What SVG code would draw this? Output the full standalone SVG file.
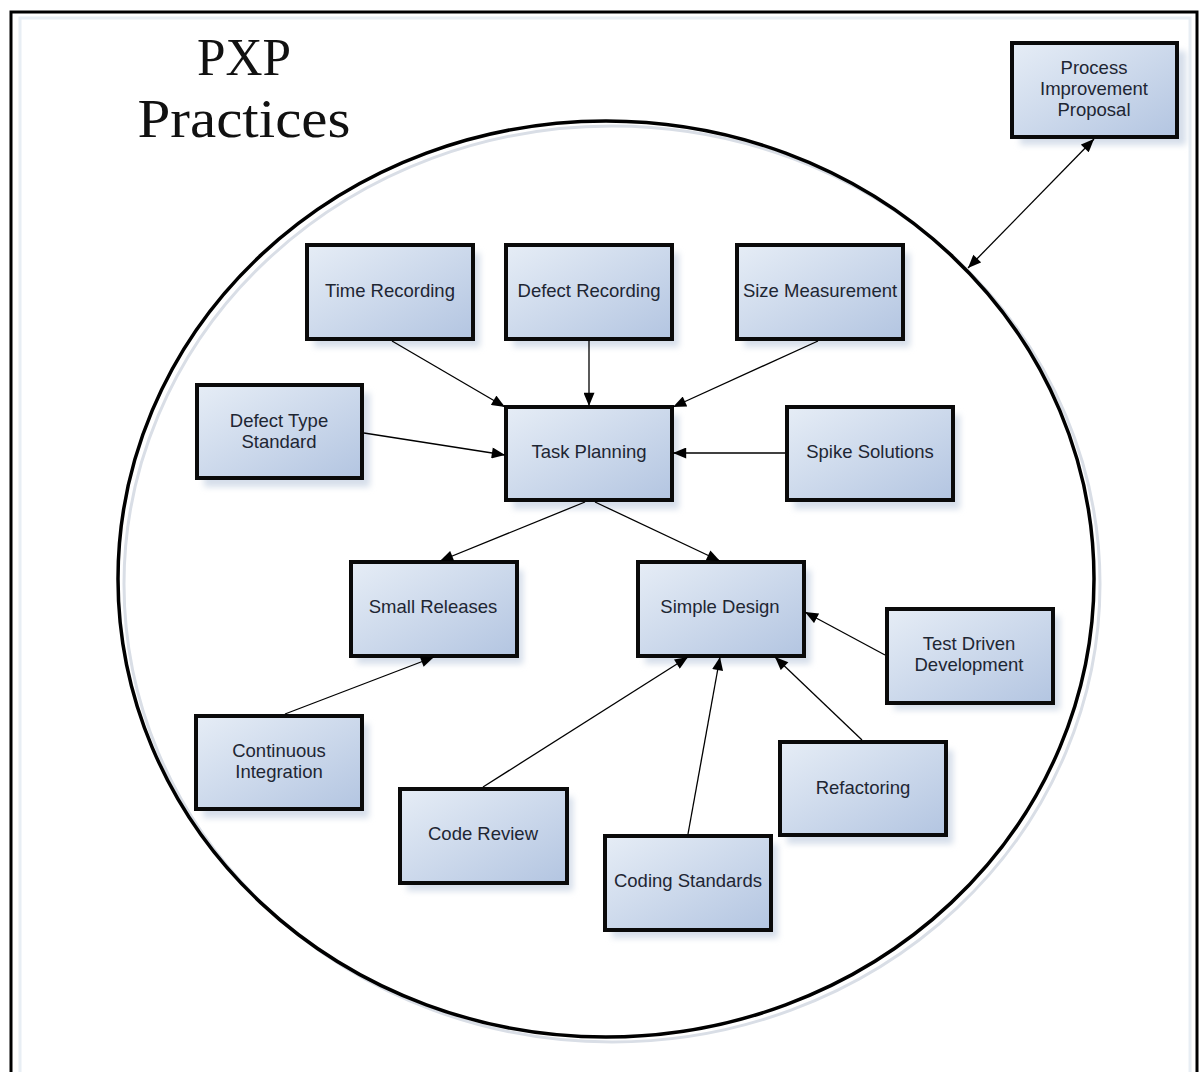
<svg xmlns="http://www.w3.org/2000/svg" width="1200" height="1072" viewBox="0 0 1200 1072">
<defs>
<linearGradient id="g" x1="0" y1="0" x2="1" y2="1">
<stop offset="0" stop-color="#e6edf6"/>
<stop offset="1" stop-color="#b3c5e1"/>
</linearGradient>
<filter id="blur" x="-20%" y="-20%" width="140%" height="140%"><feGaussianBlur stdDeviation="3"/></filter>
<marker id="ah" viewBox="0 0 12 10" refX="12" refY="5" markerWidth="14" markerHeight="11" markerUnits="userSpaceOnUse" orient="auto-start-reverse">
<path d="M0,0 L12,5 L0,10 z" fill="#000"/>
</marker>
<style>
.box{fill:url(#g);stroke:#0a0a0a;stroke-width:4}
.sh{fill:#d5deea;filter:url(#blur)}
.t{font-family:"Liberation Sans",Arial,sans-serif;font-size:18.5px;fill:#1e2633;text-anchor:middle}
.c{stroke:#000;stroke-width:1.3;fill:none;marker-end:url(#ah)}
</style>
</defs>
<rect x="0" y="0" width="1200" height="1072" fill="#fff"/>
<rect x="20" y="18" width="1170" height="1070" fill="none" stroke="#e8eef4" stroke-width="3"/>
<path d="M11,1072 L11,12 L1197,12 L1197,1072" fill="none" stroke="#000" stroke-width="3"/>
<g id="title" font-family="'Liberation Serif','Times New Roman',serif" fill="#111" text-anchor="middle">
<text x="244" y="75" font-size="52" textLength="94" lengthAdjust="spacingAndGlyphs">PXP</text>
<text x="244" y="137" font-size="54" textLength="213" lengthAdjust="spacingAndGlyphs">Practices</text>
</g>
<g id="boundary">
<ellipse cx="612" cy="584" rx="488" ry="458" fill="none" stroke="#d9dee6" stroke-width="3"/>
<ellipse cx="606" cy="579" rx="488" ry="458" fill="none" stroke="#000" stroke-width="3.5"/>
</g>
<g id="n-pip"><rect class="sh" x="1020" y="51" width="166" height="94"/><rect class="box" x="1012" y="43" width="165" height="94"/><text class="t" x="1094" y="74">Process</text><text class="t" x="1094" y="95">Improvement</text><text class="t" x="1094" y="116">Proposal</text></g>
<g id="n-time"><rect class="sh" x="314" y="253" width="166" height="94"/><rect class="box" x="307" y="245" width="166" height="94"/><text class="t" x="390" y="297">Time Recording</text></g>
<g id="n-defect"><rect class="sh" x="513" y="253" width="166" height="94"/><rect class="box" x="506" y="245" width="166" height="94"/><text class="t" x="589" y="297">Defect Recording</text></g>
<g id="n-size"><rect class="sh" x="744" y="253" width="166" height="94"/><rect class="box" x="737" y="245" width="166" height="94"/><text class="t" x="820" y="297">Size Measurement</text></g>
<g id="n-dts"><rect class="sh" x="204" y="393" width="166" height="94"/><rect class="box" x="197" y="385" width="165" height="93"/><text class="t" x="279" y="427">Defect Type</text><text class="t" x="279" y="448">Standard</text></g>
<g id="n-task"><rect class="sh" x="513" y="415" width="166" height="94"/><rect class="box" x="506" y="407" width="166" height="93"/><text class="t" x="589" y="458">Task Planning</text></g>
<g id="n-spike"><rect class="sh" x="794" y="415" width="166" height="94"/><rect class="box" x="787" y="407" width="166" height="93"/><text class="t" x="870" y="458">Spike Solutions</text></g>
<g id="n-small"><rect class="sh" x="357" y="570" width="166" height="94"/><rect class="box" x="351" y="562" width="166" height="94"/><text class="t" x="433" y="613">Small Releases</text></g>
<g id="n-simple"><rect class="sh" x="645" y="570" width="166" height="94"/><rect class="box" x="638" y="562" width="166" height="94"/><text class="t" x="720" y="613">Simple Design</text></g>
<g id="n-tdd"><rect class="sh" x="894" y="616" width="166" height="94"/><rect class="box" x="887" y="609" width="166" height="94"/><text class="t" x="969" y="650">Test Driven</text><text class="t" x="969" y="671">Development</text></g>
<g id="n-ci"><rect class="sh" x="203" y="724" width="166" height="94"/><rect class="box" x="196" y="716" width="166" height="93"/><text class="t" x="279" y="757">Continuous</text><text class="t" x="279" y="778">Integration</text></g>
<g id="n-review"><rect class="sh" x="407" y="797" width="166" height="94"/><rect class="box" x="400" y="789" width="167" height="94"/><text class="t" x="483" y="840">Code Review</text></g>
<g id="n-refactor"><rect class="sh" x="787" y="750" width="166" height="94"/><rect class="box" x="780" y="742" width="166" height="93"/><text class="t" x="863" y="794">Refactoring</text></g>
<g id="n-coding"><rect class="sh" x="612" y="844" width="166" height="94"/><rect class="box" x="605" y="836" width="166" height="94"/><text class="t" x="688" y="887">Coding Standards</text></g>
<g id="connectors">
<line class="c" x1="392" y1="341" x2="505" y2="407"/>
<line class="c" x1="589" y1="341" x2="589" y2="406"/>
<line class="c" x1="818" y1="341" x2="673" y2="407"/>
<line class="c" x1="364" y1="433" x2="505" y2="455"/>
<line class="c" x1="785" y1="453" x2="673" y2="453"/>
<line class="c" x1="585" y1="502" x2="440" y2="561"/>
<line class="c" x1="595" y1="502" x2="720" y2="561"/>
<line class="c" x1="285" y1="714" x2="434" y2="657"/>
<line class="c" x1="483" y1="787" x2="688" y2="657"/>
<line class="c" x1="688" y1="834" x2="720" y2="657"/>
<line class="c" x1="862" y1="740" x2="775" y2="657"/>
<line class="c" x1="885" y1="655" x2="805" y2="612"/>
<line class="c" x1="968" y1="268" x2="1094" y2="139" marker-start="url(#ah)"/>
</g>
</svg>
